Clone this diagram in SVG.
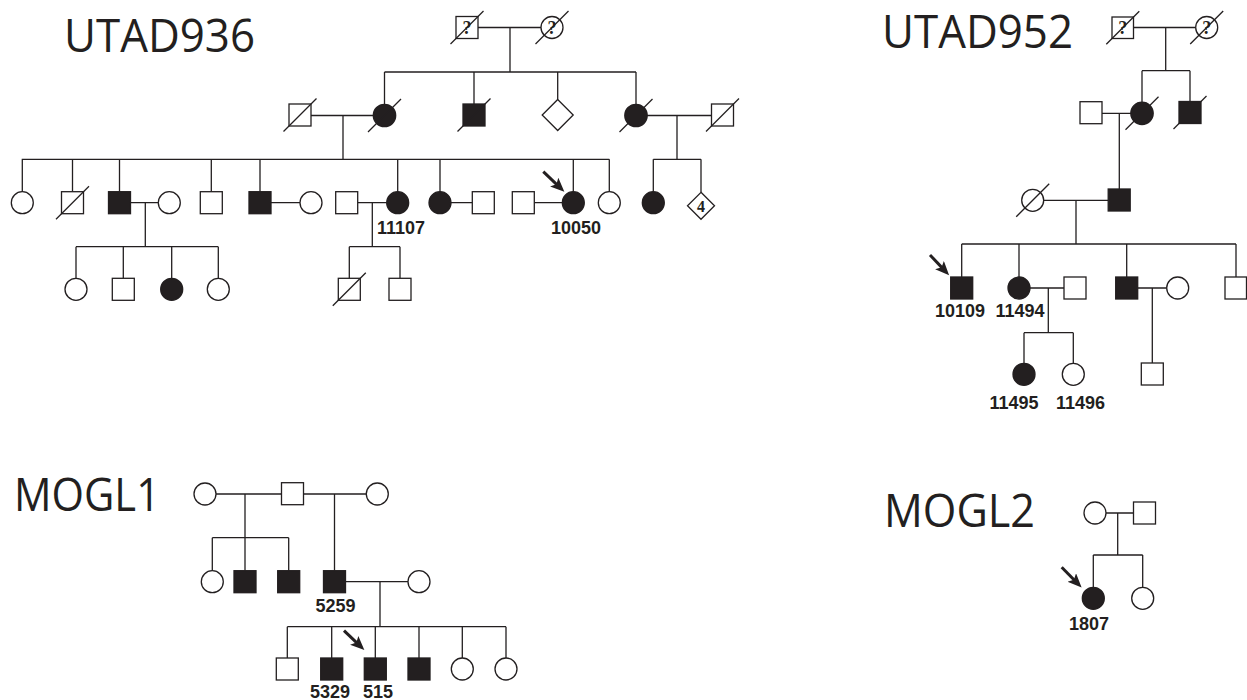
<svg xmlns="http://www.w3.org/2000/svg" width="1247" height="700" viewBox="0 0 1247 700">
<defs>
<style>
.l{stroke:#231f20;stroke-width:1.3;fill:none}
.o{fill:#fff;stroke:#231f20;stroke-width:1.3}
.f{fill:#231f20;stroke:#231f20;stroke-width:1.3}
.d{stroke:#231f20;stroke-width:1.3}
.t{font-family:"Open Sans","Liberation Sans",sans-serif;font-size:46px;fill:#231f20}
.n{font-family:"Liberation Sans",Arial,sans-serif;font-weight:bold;font-size:18px;fill:#231f20;text-anchor:middle}
.q{font-family:"Liberation Serif","DejaVu Serif",serif;font-weight:bold;font-size:18px;fill:#231f20;text-anchor:middle}
.a{stroke:#231f20;stroke-width:3;fill:none}
</style>
<marker id="ah" markerUnits="userSpaceOnUse" markerWidth="16" markerHeight="14" refX="8" refY="6" orient="auto">
<path d="M0,0 L14,6 L0,12 L3,6 z" fill="#231f20"/>
</marker>
</defs>
<rect width="1247" height="700" fill="#fff"/>

<!-- Titles -->
<text class="t" x="64" y="52" textLength="191" lengthAdjust="spacingAndGlyphs">UTAD936</text>
<text class="t" x="882" y="48" textLength="191" lengthAdjust="spacingAndGlyphs">UTAD952</text>
<text class="t" x="14" y="511" textLength="146" lengthAdjust="spacingAndGlyphs">MOGL1</text>
<text class="t" x="884" y="527" textLength="151" lengthAdjust="spacingAndGlyphs">MOGL2</text>

<!-- Connectors -->
<g id="connectors">
<!-- UTAD936 -->
<path class="l" d="M478,27.5H541 M510,27.5V72 M384.5,72H636 M384.5,72V104 M474,72V104 M557.7,72V99.5 M636,72V104"/>
<path class="l" d="M311,115.5H373 M343,115.5V159.3 M647,115.5H711.5 M677,115.5V159.3"/>
<path class="l" d="M21.7,159.3H609.3 M22.3,159.3V191.7 M72.5,159.3V191.7 M119.5,159.3V191.7 M211.3,159.3V191.7 M260,159.3V191.7 M397.7,159.3V191.7 M440,159.3V191.7 M573.3,159.3V191.7 M609.3,159.3V191.7"/>
<path class="l" d="M653.3,159.3H701 M653.3,159.3V191.7 M701,159.3V192.3"/>
<path class="l" d="M130.5,202.7H158.3 M145.3,202.7V246.7 M271,202.7H300 M357.7,202.7H386.7 M372.3,202.7V246.7 M451,202.7H472.3 M534.3,202.7H562.3"/>
<path class="l" d="M76,246.7H218.3 M76,246.7V278.3 M123.3,246.7V278.3 M171.7,246.7V278.3 M218.3,246.7V278.3 M349.3,246.7H400 M349.3,246.7V278.3 M400,246.7V278.3"/>
<!-- UTAD952 -->
<path class="l" d="M1133.8,27.5H1195.7 M1165.7,27.5V70.7 M1142,70.7H1190 M1142,70.7V102 M1190,70.7V101.5"/>
<path class="l" d="M1102,113.3H1131 M1119.3,113.3V189 M1043.7,200.3H1108.2 M1076,200.3V244"/>
<path class="l" d="M961.7,244H1236 M961.7,244V277 M1019,244V277 M1126.7,244V277 M1236,244V277"/>
<path class="l" d="M1030,288H1064 M1048.3,288V332.7 M1137.7,288H1166.7 M1152.3,288V363"/>
<path class="l" d="M1024,332.7H1073.3 M1024,332.7V363.3 M1073.3,332.7V363.3"/>
<!-- MOGL1 -->
<path class="l" d="M216,494H281.5 M303.5,494H366.3 M245,494V570.7 M212.3,537.7H288.7 M212.3,537.7V570.7 M288.7,537.7V570.7 M334.5,494V570.7"/>
<path class="l" d="M345.5,581.7H408 M380,581.7V626.7 M287.3,626.7H506 M287.3,626.7V658 M331.7,626.7V658 M375.3,626.7V658 M419,626.7V658 M462.3,626.7V658 M506,626.7V658"/>
<!-- MOGL2 -->
<path class="l" d="M1106,513H1133.5 M1117.7,513V555 M1093.3,555H1142.7 M1093.3,555V587.3 M1142.7,555V587.3"/>
<!-- Proband arrows -->
<line class="a" x1="543.3" y1="171.7" x2="560" y2="187.6" marker-end="url(#ah)"/>
<line class="a" x1="930" y1="255" x2="945" y2="270.9" marker-end="url(#ah)"/>
<line class="a" x1="344" y1="630.7" x2="360" y2="645.9" marker-end="url(#ah)"/>
<line class="a" x1="1061.7" y1="567.3" x2="1077.4" y2="583.2" marker-end="url(#ah)"/>
</g>

<!-- UTAD936 nodes -->
<g id="u936-I1"><rect class="o" x="456" y="16.5" width="22" height="22"/><text class="q" x="467" y="34">?</text><line class="d" x1="450.5" y1="44" x2="483.5" y2="11"/></g>
<g id="u936-I2"><circle class="o" cx="552" cy="27.5" r="11"/><text class="q" x="552" y="34">?</text><line class="d" x1="535.5" y1="44" x2="568.5" y2="11"/></g>

<g id="u936-II1"><rect class="o" x="289" y="104" width="22" height="22"/><line class="d" x1="283.5" y1="131.5" x2="316.5" y2="98.5"/></g>
<g id="u936-II2"><circle class="f" cx="384.5" cy="115.5" r="11.2"/><line class="d" x1="368" y1="132" x2="401" y2="99"/></g>
<g id="u936-II3"><rect class="f" x="463" y="104" width="22" height="22"/><line class="d" x1="457.5" y1="131.5" x2="490.5" y2="98.5"/></g>
<g id="u936-II4"><path class="o" d="M557.7,99.5 L573.2,115 L557.7,130.5 L542.2,115 Z"/></g>
<g id="u936-II5"><circle class="f" cx="636" cy="115.5" r="11.2"/><line class="d" x1="619.5" y1="132" x2="652.5" y2="99"/></g>
<g id="u936-II6"><rect class="o" x="711.5" y="104" width="22" height="22"/><line class="d" x1="706" y1="131.5" x2="739" y2="98.5"/></g>

<g id="u936-III1"><circle class="o" cx="22.3" cy="202.7" r="11"/></g>
<g id="u936-III2"><rect class="o" x="61.5" y="191.7" width="22" height="22"/><line class="d" x1="56" y1="219.2" x2="89" y2="186.2"/></g>
<g id="u936-III3"><rect class="f" x="108.5" y="191.7" width="22" height="22"/></g>
<g id="u936-III4"><circle class="o" cx="169.3" cy="202.7" r="11"/></g>
<g id="u936-III5"><rect class="o" x="200.3" y="191.7" width="22" height="22"/></g>
<g id="u936-III6"><rect class="f" x="249" y="191.7" width="22" height="22"/></g>
<g id="u936-III7"><circle class="o" cx="311" cy="202.7" r="11"/></g>
<g id="u936-III8"><rect class="o" x="335.7" y="191.7" width="22" height="22"/></g>
<g id="u936-III9"><circle class="f" cx="397.7" cy="202.7" r="11"/><text class="n" x="401" y="233.5">11107</text></g>
<g id="u936-III10"><circle class="f" cx="440" cy="202.7" r="11"/></g>
<g id="u936-III11"><rect class="o" x="472.3" y="191.7" width="22" height="22"/></g>
<g id="u936-III12"><rect class="o" x="512.3" y="191.7" width="22" height="22"/></g>
<g id="u936-III13"><circle class="f" cx="573.3" cy="202.7" r="11"/><text class="n" x="576" y="233.5">10050</text></g>
<g id="u936-III14"><circle class="o" cx="609.3" cy="202.7" r="11"/></g>
<g id="u936-III15"><circle class="f" cx="653.3" cy="202.7" r="11"/></g>
<g id="u936-III16"><path class="o" d="M701,192.3 L714.5,205.8 L701,219.3 L687.5,205.8 Z"/><text class="q" x="701" y="211.5" style="font-size:16px">4</text></g>

<g id="u936-IV1"><circle class="o" cx="76" cy="289.3" r="11"/></g>
<g id="u936-IV2"><rect class="o" x="112.3" y="278.3" width="22" height="22"/></g>
<g id="u936-IV3"><circle class="f" cx="171.7" cy="289.3" r="11"/></g>
<g id="u936-IV4"><circle class="o" cx="218.3" cy="289.3" r="11"/></g>
<g id="u936-IV5"><rect class="o" x="338.3" y="278.3" width="22" height="22"/><line class="d" x1="332.8" y1="305.8" x2="365.8" y2="272.8"/></g>
<g id="u936-IV6"><rect class="o" x="389" y="278.3" width="22" height="22"/></g>

<!-- UTAD952 nodes -->
<g id="u952-I1"><rect class="o" x="1112" y="17" width="21.5" height="21.5"/><text class="q" x="1122.8" y="34">?</text><line class="d" x1="1106.3" y1="44.3" x2="1139.3" y2="11.3"/></g>
<g id="u952-I2"><circle class="o" cx="1206.7" cy="27.5" r="11"/><text class="q" x="1206.7" y="34">?</text><line class="d" x1="1190.2" y1="44" x2="1223.2" y2="11"/></g>
<g id="u952-II1"><rect class="o" x="1080" y="101.7" width="22" height="22"/></g>
<g id="u952-II2"><circle class="f" cx="1142" cy="113.3" r="11.2"/><line class="d" x1="1125.5" y1="129.8" x2="1158.5" y2="96.8"/></g>
<g id="u952-II3"><rect class="f" x="1179" y="101.5" width="22" height="22"/><line class="d" x1="1173.5" y1="129" x2="1206.5" y2="96"/></g>
<g id="u952-III1"><circle class="o" cx="1032.7" cy="200.3" r="11"/><line class="d" x1="1016.2" y1="216.8" x2="1049.2" y2="183.8"/></g>
<g id="u952-III2"><rect class="f" x="1108.2" y="189" width="22" height="22"/></g>
<g id="u952-IV1"><rect class="f" x="950.7" y="277" width="22" height="22"/><text class="n" x="960" y="317">10109</text></g>
<g id="u952-IV2"><circle class="f" cx="1019" cy="288" r="11"/><text class="n" x="1020" y="317">11494</text></g>
<g id="u952-IV3"><rect class="o" x="1064" y="277" width="22" height="22"/></g>
<g id="u952-IV4"><rect class="f" x="1115.7" y="277" width="22" height="22"/></g>
<g id="u952-IV5"><circle class="o" cx="1177.7" cy="288" r="11"/></g>
<g id="u952-IV6"><rect class="o" x="1225" y="277" width="21.5" height="22"/></g>
<g id="u952-V1"><circle class="f" cx="1024" cy="374.3" r="11"/><text class="n" x="1014" y="408.5">11495</text></g>
<g id="u952-V2"><circle class="o" cx="1073.3" cy="374.3" r="11"/><text class="n" x="1080.5" y="408.5">11496</text></g>
<g id="u952-V3"><rect class="o" x="1141.3" y="363" width="22" height="22"/></g>

<!-- MOGL1 nodes -->
<g id="m1-I1"><circle class="o" cx="205" cy="494" r="11"/></g>
<g id="m1-I2"><rect class="o" x="281.5" y="482.7" width="22" height="22"/></g>
<g id="m1-I3"><circle class="o" cx="377.3" cy="494" r="11"/></g>
<g id="m1-II1"><circle class="o" cx="212.3" cy="581.7" r="11"/></g>
<g id="m1-II2"><rect class="f" x="234" y="570.7" width="22" height="22"/></g>
<g id="m1-II3"><rect class="f" x="277.7" y="570.7" width="22" height="22"/></g>
<g id="m1-II4"><rect class="f" x="323.5" y="570.7" width="22" height="22"/><text class="n" x="335.5" y="612">5259</text></g>
<g id="m1-II5"><circle class="o" cx="419" cy="581.7" r="11"/></g>
<g id="m1-III1"><rect class="o" x="276.3" y="658" width="22" height="22"/></g>
<g id="m1-III2"><rect class="f" x="320.7" y="658" width="22" height="22"/><text class="n" x="330" y="698">5329</text></g>
<g id="m1-III3"><rect class="f" x="364.3" y="658" width="22" height="22"/><text class="n" x="378" y="698">515</text></g>
<g id="m1-III4"><rect class="f" x="408" y="658" width="22" height="22"/></g>
<g id="m1-III5"><circle class="o" cx="462.3" cy="669" r="11"/></g>
<g id="m1-III6"><circle class="o" cx="506" cy="669" r="11"/></g>

<!-- MOGL2 nodes -->
<g id="m2-I1"><circle class="o" cx="1095" cy="513" r="11"/></g>
<g id="m2-I2"><rect class="o" x="1133.5" y="502" width="22" height="22"/></g>
<g id="m2-II1"><circle class="f" cx="1093.3" cy="598.3" r="11"/><text class="n" x="1089" y="629.5">1807</text></g>
<g id="m2-II2"><circle class="o" cx="1142.7" cy="598.3" r="11"/></g>
</svg>
